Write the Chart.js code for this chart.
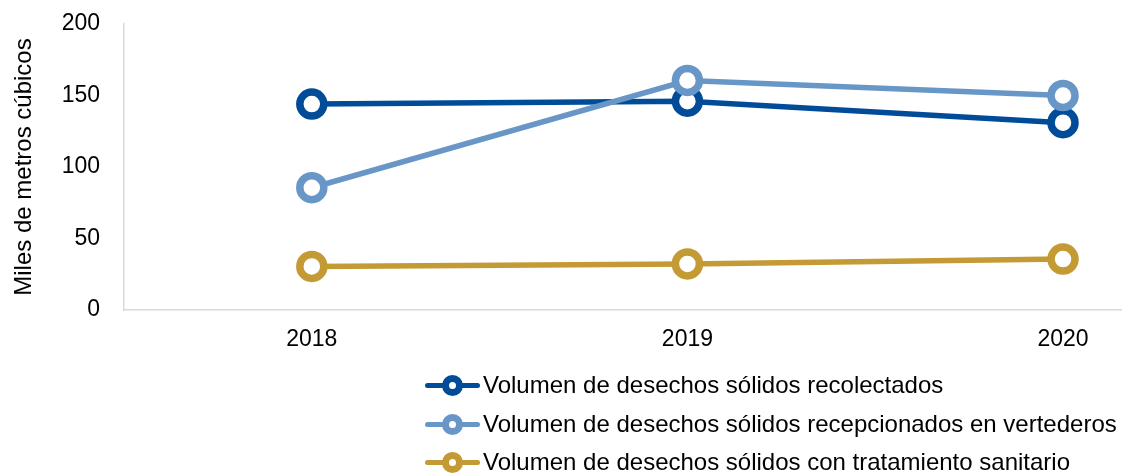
<!DOCTYPE html>
<html>
<head>
<meta charset="utf-8">
<script src="https://cdn.jsdelivr.net/npm/chart.js@4.4.1/dist/chart.umd.min.js"></script>
<style>
  html, body { margin: 0; padding: 0; background: #fff; }
  #wrap { position: relative; width: 1122px; height: 474px; overflow: hidden; }
  #c { position: absolute; left: 0; top: 0; }
  .leg { position: absolute; left: 425px; height: 30px; font-family: "Liberation Sans", Arial, sans-serif; font-size: 24px; color: #000; white-space: nowrap; }
  .leg .ln { position: absolute; left: 0; top: 13px; width: 55px; height: 5px; border-radius: 2.5px; }
  .leg .rg { position: absolute; left: 17px; top: 5px; width: 7px; height: 7px; border-radius: 50%; background: #fff; border-style: solid; border-width: 7px; }
  .leg .tx { position: absolute; left: 58px; top: 1px; line-height: 28px; }
</style>
</head>
<body>
<div id="wrap">
  <canvas id="c" width="1122" height="474"></canvas>
  <div id="legend"></div>
</div>
<script>
const categories = ["2018", "2019", "2020"];
const recolectados = [144, 146, 131];
const recepcionados = [85.5, 160.5, 150];
const tratamiento = [30.5, 32.2, 35.6];
const seriesNames = [
  "Volumen de desechos sólidos recolectados",
  "Volumen de desechos sólidos recepcionados en vertederos",
  "Volumen de desechos sólidos con tratamiento sanitario"
];
const seriesColors = ["#004C99", "#6897C7", "#C49A34"];
const yTicks = [0, 50, 100, 150, 200];
const yTitle = "Miles de metros cúbicos";

const seriesValues = [recolectados, recepcionados, tratamiento];
const drawOrder = [1, 0, 2];

const datasets = seriesValues.map((vals, i) => ({
  label: seriesNames[i],
  data: vals.map((v, k) => ({ x: k, y: v })),
  borderColor: seriesColors[i],
  backgroundColor: seriesColors[i],
  borderWidth: 5.5,
  pointRadius: 12,
  pointHoverRadius: 12,
  pointBorderWidth: 7.5,
  pointHoverBorderWidth: 7.5,
  pointBackgroundColor: "#ffffff",
  pointBorderColor: seriesColors[i],
  tension: 0,
  order: drawOrder[i],
  clip: false
}));

const font = { family: "'Liberation Sans', Arial, sans-serif", size: 23 };

const chart = new Chart(document.getElementById("c"), {
  type: "line",
  data: { datasets },
  options: {
    responsive: false,
    animation: false,
    events: [],
    layout: { autoPadding: false, padding: { top: 24, right: 0, bottom: 114, left: 0 } },
    plugins: { legend: { display: false }, tooltip: { enabled: false } },
    scales: {
      x: {
        type: "linear",
        min: -0.5,
        max: 2.157,
        afterBuildTicks: (s) => { s.ticks = categories.map((c, i) => ({ value: i })); },
        afterFit: (s) => { s.height = 50; s.paddingLeft = 0; s.paddingRight = 0; },
        grid: { display: false },
        border: { display: true, color: "#d9d9d9", width: 1.5 },
        ticks: {
          color: "#000",
          font,
          padding: 8,
          maxRotation: 0,
          autoSkip: false,
          callback: (v) => categories[v] ?? ""
        }
      },
      y: {
        min: 0,
        max: 200,
        afterBuildTicks: (s) => { s.ticks = yTicks.map(v => ({ value: v })); },
        afterFit: (s) => { s.width = 124; s.paddingTop = 0; s.paddingBottom = 0; },
        grid: { display: false },
        border: { display: true, color: "#d9d9d9", width: 1.5 },
        title: {
          display: true,
          text: yTitle,
          color: "#000",
          font: { family: "'Liberation Sans', Arial, sans-serif", size: 24 },
          padding: { top: 10, bottom: 0 }
        },
        ticks: { color: "#000", font, padding: 16 }
      }
    }
  }
});

const legendTops = [370, 409, 447];
const legend = document.getElementById("legend");
seriesNames.forEach((name, i) => {
  const row = document.createElement("div");
  row.className = "leg";
  row.style.top = legendTops[i] + "px";
  row.innerHTML = `<div class="ln" style="background:${seriesColors[i]}"></div>` +
    `<div class="rg" style="border-color:${seriesColors[i]}"></div>` +
    `<span class="tx">${name}</span>`;
  legend.appendChild(row);
});
</script>
</body>
</html>
